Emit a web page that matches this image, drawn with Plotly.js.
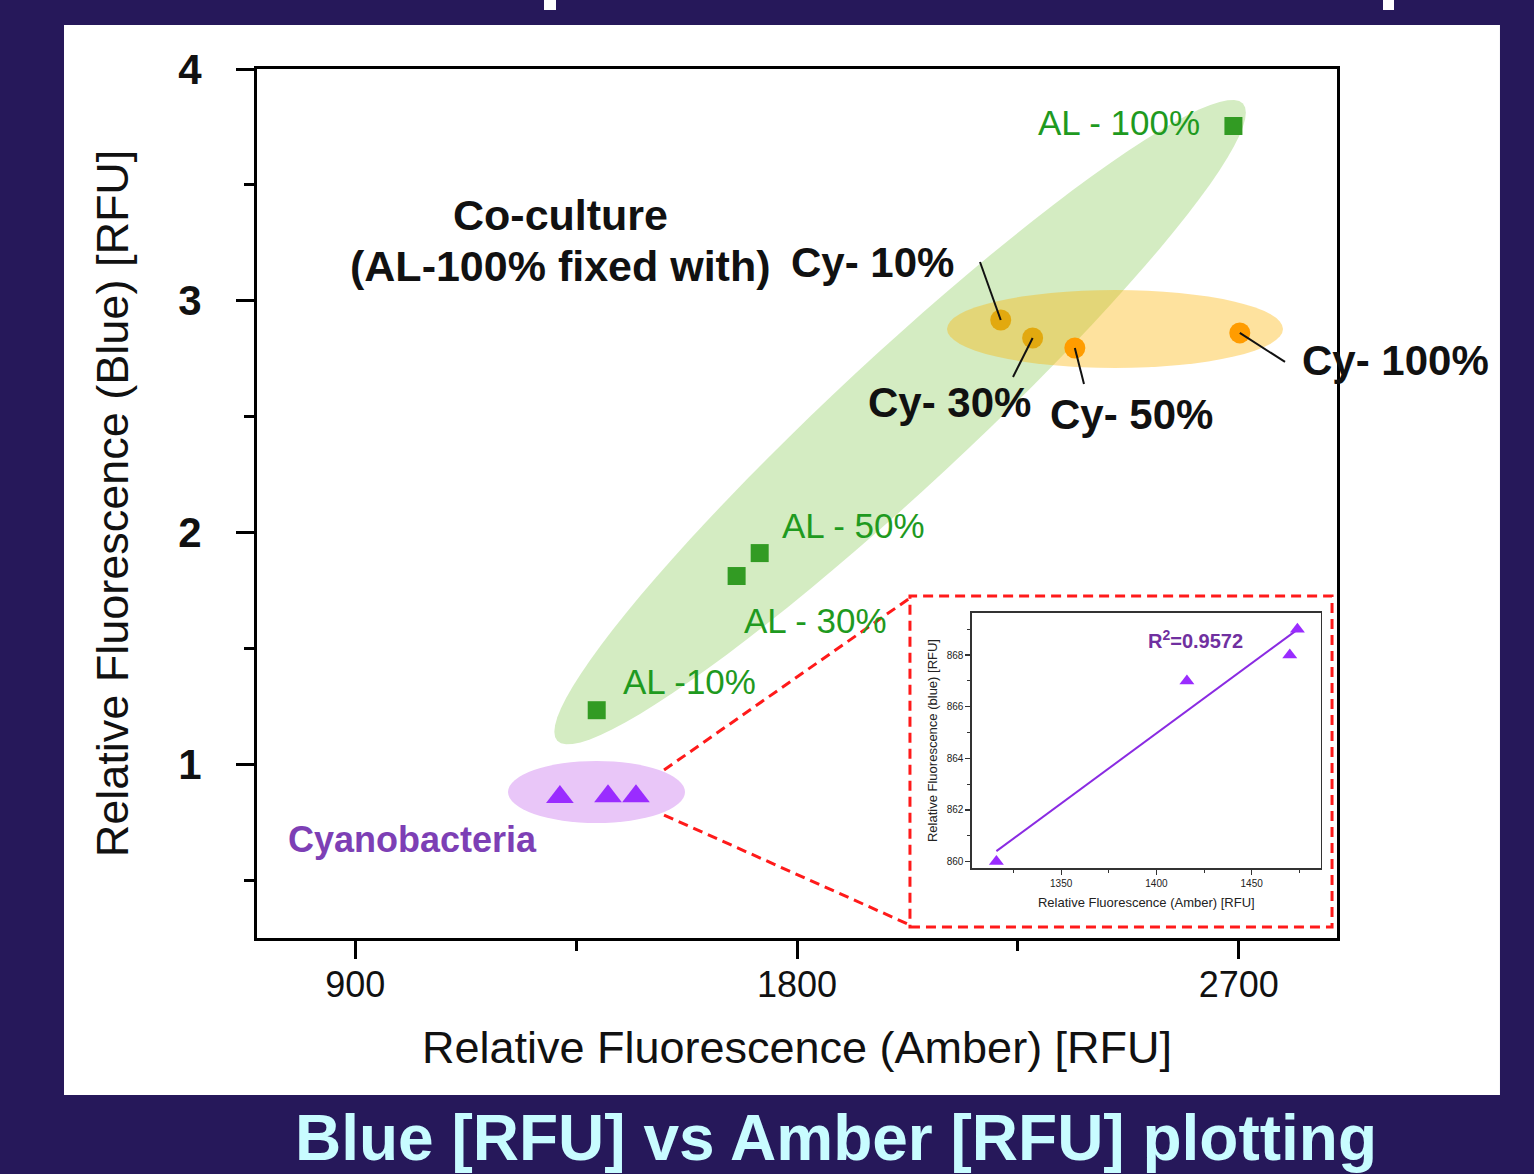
<!DOCTYPE html>
<html>
<head>
<meta charset="utf-8">
<script src="https://cdn.plot.ly/plotly-3.0.1.min.js"></script>
<style>
  html, body { margin: 0; padding: 0; background: #26185a; }
  #chart { width: 1534px; height: 1174px; }
</style>
</head>
<body>
<div id="chart"></div>
<script>
// ---------- data ----------
const alLabels   = ['AL -10%', 'AL - 30%', 'AL - 50%', 'AL - 100%'];
const alAmber    = [1392, 1677, 1724, 2689];
const alBlue     = [1.233, 1.812, 1.911, 3.754];

const cyLabels   = ['Cy- 10%', 'Cy- 30%', 'Cy- 50%', 'Cy- 100%'];
const cyAmber    = [2215, 2280, 2366, 2702];
const cyBlue     = [2.917, 2.839, 2.796, 2.861];

const cyanoAmber = [1317, 1415, 1472];
const cyanoBlue  = [0.858, 0.862, 0.862];

// inset (zoom on cyanobacteria)
const insAmber   = [1316, 1416, 1470, 1474];
const insBlue    = [860, 867, 868, 869];
const r2Text     = 'R<sup>2</sup>=0.9572';

// ---------- geometry helpers ----------
const W = 1534, H = 1174;
const M = {l: 257, r: 197, t: 69, b: 236};
const XR = [700, 2900], YR = [0.25, 4];
const plotW = W - M.l - M.r, plotH = H - M.t - M.b;
const sx = plotW / (XR[1] - XR[0]);
const sy = plotH / (YR[1] - YR[0]);
const FONT = 'Liberation Sans, Arial, sans-serif';

function ellipsePath(cx, cy, aPx, bPx, angDeg) {
  const A = angDeg * Math.PI / 180;
  let p = '';
  for (let i = 0; i <= 96; i++) {
    const t = i / 96 * 2 * Math.PI;
    const u = aPx * Math.cos(t), v = bPx * Math.sin(t);
    const dx = u * Math.cos(A) - v * Math.sin(A);
    const dy = u * Math.sin(A) + v * Math.cos(A);
    const x = cx + dx / sx, y = cy + dy / sy;
    p += (i === 0 ? 'M' : 'L') + x.toFixed(2) + ',' + y.toFixed(4);
  }
  return p + 'Z';
}
function ellipseBox(cx, cy, aPx, bPx) {
  return {x0: cx - aPx / sx, x1: cx + aPx / sx, y0: cy - bPx / sy, y1: cy + bPx / sy};
}

// least-squares fit for inset
const n = insAmber.length;
const mx = insAmber.reduce((a, b) => a + b, 0) / n;
const my = insBlue.reduce((a, b) => a + b, 0) / n;
let sxy = 0, sxx = 0;
for (let i = 0; i < n; i++) { sxy += (insAmber[i] - mx) * (insBlue[i] - my); sxx += (insAmber[i] - mx) ** 2; }
const slope = sxy / sxx, icpt = my - slope * mx;
const fitX = [Math.min(...insAmber), Math.max(...insAmber)];
const fitY = fitX.map(x => icpt + slope * x);

// ---------- traces ----------
const traces = [
  {x: alAmber, y: alBlue, type: 'scatter', mode: 'markers', name: 'AL',
   marker: {symbol: 'square', size: 18, color: '#329b23'}, xaxis: 'x', yaxis: 'y', cliponaxis: false},
  {x: cyAmber, y: cyBlue, type: 'scatter', mode: 'markers', name: 'Co-culture',
   marker: {symbol: 'circle', size: 21, color: ['#e2a90f', '#e2a90f', '#ff9c00', '#ff9c00']}, xaxis: 'x', yaxis: 'y'},
  {x: cyanoAmber, y: cyanoBlue, type: 'scatter', mode: 'markers', name: 'Cyanobacteria',
   marker: {symbol: 'triangle-up', size: 24, color: '#9a2cff'}, xaxis: 'x', yaxis: 'y'},
  {x: fitX, y: fitY, type: 'scatter', mode: 'lines', name: 'fit',
   line: {color: '#8a2be2', width: 2}, xaxis: 'x2', yaxis: 'y2'},
  {x: insAmber, y: insBlue, type: 'scatter', mode: 'markers', name: 'inset',
   marker: {symbol: 'triangle-up', size: 13, color: '#9a2cff'}, xaxis: 'x2', yaxis: 'y2', cliponaxis: false}
];

// ---------- shapes ----------
const gE = {cx: 2010, cy: 2.476, a: 468, b: 66, ang: 42.9};
const oE = ellipseBox(2447.8, 2.878, 168, 39);
const pE = ellipseBox(1391.6, 0.880, 88.5, 31);

const shapes = [
  // white panel
  {type: 'rect', xref: 'paper', yref: 'paper', x0: -0.1787, x1: 1.1509, y0: -0.1807, y1: 1.0506,
   fillcolor: '#ffffff', line: {width: 0}, layer: 'below'},
  // fragments of cut title at top
  {type: 'rect', xref: 'paper', yref: 'paper', x0: (544 - 257) / plotW, x1: (556 - 257) / plotW,
   y0: (938 - 10) / plotH, y1: 938 / plotH + 0.01, fillcolor: '#ffffff', line: {width: 0}},
  {type: 'rect', xref: 'paper', yref: 'paper', x0: (1383 - 257) / plotW, x1: (1394 - 257) / plotW,
   y0: (938 - 10) / plotH, y1: 938 / plotH + 0.01, fillcolor: '#ffffff', line: {width: 0}},
  // ellipses
  {type: 'path', xref: 'x', yref: 'y', path: ellipsePath(gE.cx, gE.cy, gE.a, gE.b, gE.ang),
   fillcolor: '#d4ecc2', line: {width: 0}, layer: 'below'},
  Object.assign({type: 'circle', xref: 'x', yref: 'y', fillcolor: 'rgba(252,178,0,0.38)', line: {width: 0}, layer: 'below'}, oE),
  Object.assign({type: 'circle', xref: 'x', yref: 'y', fillcolor: '#e9c6f8', line: {width: 0}, layer: 'below'}, pE),
  // leader lines
  {type: 'line', xref: 'x', yref: 'y', x0: 2172.8, y0: 3.167, x1: cyAmber[0], y1: cyBlue[0], line: {color: '#111', width: 2}},
  {type: 'line', xref: 'x', yref: 'y', x0: 2240, y0: 2.671, x1: cyAmber[1], y1: cyBlue[1], line: {color: '#111', width: 2}},
  {type: 'line', xref: 'x', yref: 'y', x0: 2384.6, y0: 2.641, x1: cyAmber[2], y1: cyBlue[2], line: {color: '#111', width: 2}},
  {type: 'line', xref: 'x', yref: 'y', x0: 2794.1, y0: 2.736, x1: cyAmber[3], y1: cyBlue[3], line: {color: '#111', width: 2}},
  // red dashed inset box and connectors
  {type: 'rect', xref: 'paper', yref: 'paper', x0: 0.6046, x1: 0.9954, y0: 0.0127, y1: 0.3936,
   line: {color: '#ff1a1a', width: 3, dash: '10px,6px'}, fillcolor: 'rgba(0,0,0,0)', layer: 'above'},
  {type: 'line', xref: 'paper', yref: 'paper', x0: 0.3769, y0: 0.1933, x1: 0.6046, y1: 0.3913,
   line: {color: '#ff1a1a', width: 3, dash: '10px,6px'}},
  {type: 'line', xref: 'paper', yref: 'paper', x0: 0.3769, y0: 0.1415, x1: 0.6046, y1: 0.0150,
   line: {color: '#ff1a1a', width: 3, dash: '10px,6px'}}
];

// ---------- annotations ----------
const green = '#1f9a1f';
const annBase = {xref: 'x', yref: 'y', showarrow: false, yanchor: 'middle'};
const bold = {family: FONT, size: 42, color: '#111', weight: 'bold'};
const gfont = {family: FONT, size: 35, color: green};
const annotations = [
  Object.assign({}, annBase, {x: 2625, y: 3.771, xanchor: 'right', text: alLabels[3], font: gfont}),
  Object.assign({}, annBase, {x: 1765, y: 2.028, xanchor: 'left', text: alLabels[2], font: gfont}),
  Object.assign({}, annBase, {x: 1688, y: 1.622, xanchor: 'left', text: alLabels[1], font: gfont}),
  Object.assign({}, annBase, {x: 1441, y: 1.359, xanchor: 'left', text: alLabels[0], font: gfont}),
  Object.assign({}, annBase, {x: 759, y: 0.677, xanchor: 'left', text: 'Cyanobacteria', font: {family: FONT, size: 36, color: '#7d3fb5', weight: 'bold'}}),
  Object.assign({}, annBase, {x: 1319, y: 3.370, xanchor: 'center', text: 'Co-culture', font: {family: FONT, size: 43, color: '#111', weight: 'bold'}}),
  Object.assign({}, annBase, {x: 1319, y: 3.150, xanchor: 'center', text: '(AL-100% fixed with)', font: {family: FONT, size: 43, color: '#111', weight: 'bold'}}),
  Object.assign({}, annBase, {x: 1784, y: 3.163, xanchor: 'left', text: cyLabels[0], font: bold}),
  Object.assign({}, annBase, {x: 1941, y: 2.559, xanchor: 'left', text: cyLabels[1], font: bold}),
  Object.assign({}, annBase, {x: 2311, y: 2.511, xanchor: 'left', text: cyLabels[2], font: bold}),
  Object.assign({}, annBase, {x: 2825, y: 2.744, xanchor: 'left', text: cyLabels[3], font: bold}),
  {xref: 'paper', yref: 'paper', x: 0.869, y: 0.343, xanchor: 'center', yanchor: 'middle', showarrow: false,
   text: r2Text, font: {family: FONT, size: 20, color: '#7030a0', weight: 'bold'}},
  // bottom caption
  {xref: 'paper', yref: 'paper', x: (836 - 257) / plotW, y: (938 - 1138) / plotH, xanchor: 'center', yanchor: 'middle',
   showarrow: false, text: 'Blue [RFU] vs Amber [RFU] plotting', font: {family: FONT, size: 64, color: '#c8fcff', weight: 'bold'}}
];

// ---------- layout ----------
const layout = {
  width: W, height: H,
  margin: M,
  paper_bgcolor: '#26185a',
  plot_bgcolor: 'rgba(0,0,0,0)',
  showlegend: false,
  xaxis: {
    range: XR, tickmode: 'linear', tick0: 900, dtick: 900,
    ticks: 'outside', ticklen: 18, tickwidth: 3, tickcolor: '#000',
    minor: {dtick: 450, tick0: 450, ticks: 'outside', ticklen: 10, tickwidth: 3, tickcolor: '#000'},
    showline: true, linecolor: '#000', linewidth: 3, mirror: true,
    showgrid: false, zeroline: false,
    tickfont: {family: FONT, size: 36, color: '#111'},
    ticklabelstandoff: -5,
    title: {text: 'Relative Fluorescence (Amber) [RFU]', font: {family: FONT, size: 45, color: '#111'}, standoff: 28},
    automargin: false
  },
  yaxis: {
    range: YR, tickmode: 'linear', tick0: 0, dtick: 1,
    ticks: 'outside', ticklen: 18, tickwidth: 3, tickcolor: '#000',
    minor: {dtick: 0.5, tick0: 0.5, ticks: 'outside', ticklen: 10, tickwidth: 3, tickcolor: '#000'},
    showline: true, linecolor: '#000', linewidth: 3, mirror: true,
    showgrid: false, zeroline: false,
    tickfont: {family: FONT, size: 42, color: '#111', weight: 'bold'},
    ticklabelstandoff: 26,
    title: {text: 'Relative Fluorescence (Blue) [RFU]', font: {family: FONT, size: 45, color: '#111'}, standoff: 36},
    automargin: false
  },
  xaxis2: {
    domain: [0.6617, 0.9852], anchor: 'y2', range: [1303, 1486.4],
    tickmode: 'linear', tick0: 1350, dtick: 50,
    ticks: 'outside', ticklen: 5, tickwidth: 1.2, tickcolor: '#333',
    minor: {dtick: 25, tick0: 1325, ticks: 'outside', ticklen: 3, tickwidth: 1, tickcolor: '#333'},
    showline: true, linecolor: '#333', linewidth: 1.3, mirror: true,
    showgrid: false, zeroline: false,
    tickfont: {family: FONT, size: 10, color: '#222'},
    title: {text: 'Relative Fluorescence (Amber) [RFU]', font: {family: FONT, size: 13, color: '#222'}, standoff: 10}
  },
  yaxis2: {
    domain: [0.0802, 0.3743], anchor: 'x2', range: [859.74, 869.64],
    tickmode: 'linear', tick0: 860, dtick: 2,
    ticks: 'outside', ticklen: 5, tickwidth: 1.2, tickcolor: '#333',
    minor: {dtick: 1, tick0: 861, ticks: 'outside', ticklen: 3, tickwidth: 1, tickcolor: '#333'},
    showline: true, linecolor: '#333', linewidth: 1.3, mirror: true,
    showgrid: false, zeroline: false,
    tickfont: {family: FONT, size: 10, color: '#222'},
    title: {text: 'Relative Fluorescence (blue) [RFU]', font: {family: FONT, size: 13, color: '#222'}, standoff: 6}
  },
  shapes: shapes,
  annotations: annotations
};

Plotly.newPlot('chart', traces, layout, {displayModeBar: false, staticPlot: true});
</script>
</body>
</html>
